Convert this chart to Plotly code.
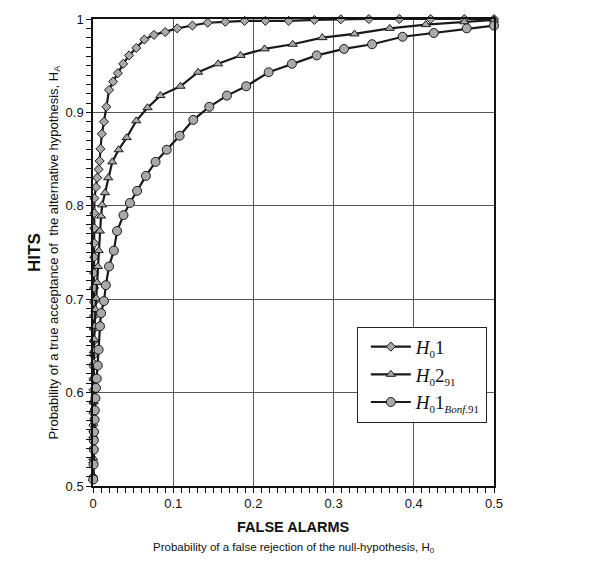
import plotly.graph_objects as go

# H0 1 (diamonds)
h01_x = [0.0002, 0.0003, 0.0003, 0.0004, 0.0004, 0.0005, 0.0005, 0.0006, 0.0007, 0.0007, 0.0008,
         0.0009, 0.0010, 0.0011, 0.0012, 0.0013, 0.0014, 0.0015, 0.0015, 0.0016, 0.0016,
         0.0017, 0.0037, 0.0053, 0.0070, 0.0083, 0.0093, 0.011, 0.0137, 0.0167, 0.020, 0.025,
         0.031, 0.0377, 0.045, 0.054, 0.064, 0.076, 0.090, 0.105, 0.124, 0.143, 0.165, 0.189,
         0.215, 0.244, 0.276, 0.309, 0.344, 0.382, 0.421, 0.463, 0.5]
h01_y = [0.510, 0.525, 0.540, 0.552, 0.565, 0.578, 0.590, 0.603, 0.615, 0.628, 0.640, 0.655,
         0.668, 0.682, 0.697, 0.712, 0.728, 0.745, 0.760, 0.776, 0.792,
         0.808, 0.820, 0.830, 0.839, 0.848, 0.861, 0.877, 0.890, 0.906, 0.924, 0.933,
         0.942, 0.952, 0.961, 0.969, 0.978, 0.983, 0.986, 0.990, 0.993, 0.996, 0.997, 0.998,
         0.998, 0.998, 0.999, 0.9997, 1.0, 1.0, 1.0, 1.0, 1.0]

# H0 2_91 (triangles)
h02_x = [0.0003, 0.0003, 0.0005, 0.0008, 0.0010, 0.0010, 0.0012, 0.0015, 0.0020, 0.0030, 0.0040,
         0.0050, 0.0060, 0.0072, 0.0085, 0.0100, 0.0115, 0.0150, 0.0190, 0.0240, 0.0320, 0.0420,
         0.054, 0.068, 0.084, 0.109, 0.131, 0.156, 0.184, 0.214, 0.249, 0.286, 0.326, 0.370,
         0.415, 0.463, 0.5]
h02_y = [0.508, 0.530, 0.560, 0.590, 0.615, 0.632, 0.645, 0.657, 0.671, 0.689, 0.701, 0.718,
         0.735, 0.752, 0.773, 0.789, 0.801, 0.814, 0.830, 0.847, 0.860, 0.873, 0.891, 0.905,
         0.918, 0.928, 0.943, 0.952, 0.961, 0.968, 0.973, 0.980, 0.984, 0.990,
         0.994, 0.997, 0.999]

# H0 1_Bonf.91 (circles)
bonf_x = [0.0003, 0.0007, 0.0010, 0.0010, 0.0013, 0.0020, 0.0023, 0.0030, 0.0037, 0.0047, 0.0060,
          0.0070, 0.0087, 0.0100, 0.0137, 0.0160, 0.0200, 0.0260, 0.0300, 0.0380, 0.046, 0.055,
          0.066, 0.078, 0.092, 0.108, 0.125, 0.145, 0.167, 0.191, 0.219, 0.248, 0.279, 0.313,
          0.348, 0.386, 0.425, 0.466, 0.5]
bonf_y = [0.507, 0.523, 0.539, 0.549, 0.558, 0.571, 0.581, 0.594, 0.605, 0.615, 0.629, 0.646,
          0.671, 0.685, 0.698, 0.715, 0.735, 0.752, 0.773, 0.790, 0.803, 0.816, 0.832, 0.847,
          0.860, 0.875, 0.892, 0.906, 0.918, 0.928, 0.943, 0.952, 0.961, 0.968, 0.973, 0.981,
          0.985, 0.990, 0.993]

x_ticks = [0, 0.1, 0.2, 0.3, 0.4, 0.5]
x_labels = ["0", "0.1", "0.2", "0.3", "0.4", "0.5"]
y_ticks = [0.5, 0.6, 0.7, 0.8, 0.9, 1.0]
y_labels = ["0.5", "0.6", "0.7", "0.8", "0.9", "1"]

MARK_FILL = "#a9a9a9"
LINE = "#1a1a1a"
SANS = "Liberation Sans, Arial"


def sub(t):
    return "<sub><span style='font-size:11px'>" + t + "</span></sub>"


fig = go.Figure()
fig.add_trace(go.Scatter(
    x=h01_x, y=h01_y, mode="lines+markers", cliponaxis=False,
    name="<i>H</i>" + sub("0") + "1",
    line=dict(color=LINE, width=2.2),
    marker=dict(symbol="diamond", size=7, color=MARK_FILL, line=dict(color=LINE, width=1))))
fig.add_trace(go.Scatter(
    x=h02_x, y=h02_y, mode="lines+markers", cliponaxis=False,
    name="<i>H</i>" + sub("0") + "2" + sub("91"),
    line=dict(color=LINE, width=2.2),
    marker=dict(symbol="triangle-up", size=8, color=MARK_FILL, line=dict(color=LINE, width=1))))
fig.add_trace(go.Scatter(
    x=bonf_x, y=bonf_y, mode="lines+markers", cliponaxis=False,
    name="<i>H</i>" + sub("0") + "1" + sub("<i>Bonf</i>.91"),
    line=dict(color=LINE, width=2.2),
    marker=dict(symbol="circle", size=9, color=MARK_FILL, line=dict(color=LINE, width=1))))

axis_common = dict(
    showline=True, mirror=True, linecolor="#111", linewidth=1.5,
    showgrid=True, gridcolor="#555", gridwidth=1, zeroline=False,
    ticks="outside", ticklen=5, tickcolor="#111", tickwidth=1.3,
    ticklabeloverflow="allow",
    tickfont=dict(family=SANS, size=13, color="#111"),
    minor=dict(ticks="outside", ticklen=5, tickcolor="#111", tickwidth=1, showgrid=False),
)
fig.update_xaxes(range=[0, 0.5], tickvals=x_ticks, ticktext=x_labels, minor_dtick=0.01, **axis_common)
fig.update_yaxes(range=[0.5, 1.0], tickvals=y_ticks, ticktext=y_labels, minor_dtick=0.01, **axis_common)

fig.update_layout(
    width=613, height=564,
    margin=dict(l=93, r=119, t=14, b=78),
    plot_bgcolor="white", paper_bgcolor="white",
    font=dict(family=SANS, color="#111"),
    legend=dict(
        x=0.658, y=0.341, xanchor="left", yanchor="top",
        bgcolor="white", bordercolor="#222", borderwidth=1,
        font=dict(family="Liberation Serif, Times New Roman", size=19, color="#111"),
        itemwidth=40, indentation=8,
    ),
    annotations=[
        dict(text="<b>FALSE ALARMS</b>", xref="paper", yref="paper", x=0.5, y=-0.087,
             xanchor="center", yanchor="middle", showarrow=False,
             font=dict(family=SANS, size=14.5, color="#111")),
        dict(text="Probability of a false rejection of the null-hypothesis, H<sub>0</sub>",
             xref="paper", yref="paper", x=0.5, y=-0.1335, xanchor="center", yanchor="middle",
             showarrow=False, font=dict(family=SANS, size=11.5, color="#111")),
        dict(text="<b>HITS</b>", xref="paper", yref="paper", x=-0.146, y=0.5,
             xanchor="center", yanchor="middle", textangle=-90, showarrow=False,
             font=dict(family=SANS, size=17, color="#111")),
        dict(text="Probability of a true acceptance of  the alternative hypothesis, H<sub>A</sub>",
             xref="paper", yref="paper", x=-0.097, y=0.5, xanchor="center", yanchor="middle",
             textangle=-90, showarrow=False,
             font=dict(family=SANS, size=13, color="#111")),
    ],
)

# Remove the default 8px page-body margin so the figure fills the window exactly.
fig.write_html("out.html", config={"displayModeBar": False},
               post_script="document.body.style.margin='0px';")
